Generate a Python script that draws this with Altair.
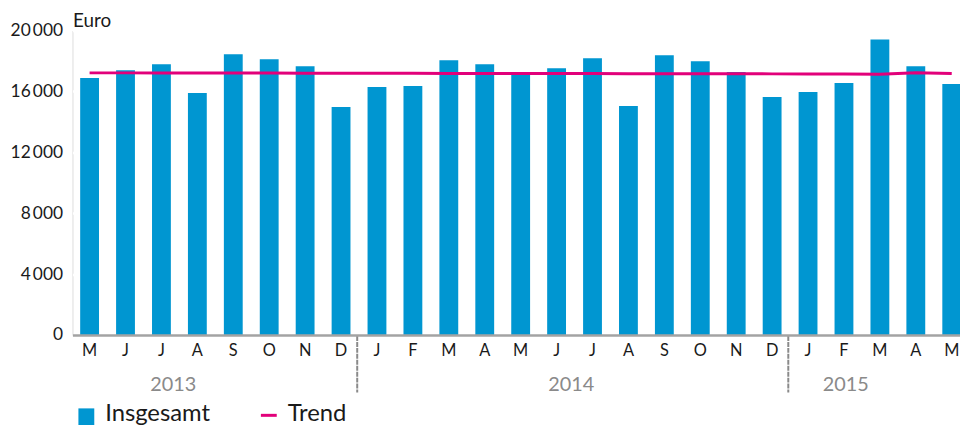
import altair as alt
import pandas as pd

months = ["M", "J", "J", "A", "S", "O", "N", "D",
          "J", "F", "M", "A", "M", "J", "J", "A", "S", "O", "N", "D",
          "J", "F", "M", "A", "M"]
insgesamt = [16880, 17400, 17790, 15900, 18440, 18120, 17660, 14980,
             16290, 16350, 18050, 17790, 17150, 17530, 18180, 15050, 18380, 17980, 17270, 15640,
             15960, 16550, 19420, 17660, 16490]
trend = [17220, 17220, 17215, 17210, 17210, 17205, 17200, 17195,
         17190, 17190, 17185, 17180, 17180, 17175, 17175, 17170, 17170, 17165, 17160, 17155,
         17150, 17140, 17135, 17235, 17180]
years = ["2013", "2014", "2015"]
year_pos = [2.33, 13.41, 21.05]
year_breaks = [7.45, 19.45]
y_ticks = [0, 4000, 8000, 12000, 16000, 20000]

BLUE = "#0096d1"
MAGENTA = "#e2007a"
BG = "#e3e8ec"
FONT = "Lato"

df = pd.DataFrame({"idx": list(range(len(months))), "month": months,
                   "value": insgesamt, "trend": trend})
ydf = pd.DataFrame({"year": years, "pos": year_pos})
bdf = pd.DataFrame({"pos": year_breaks})

xscale = alt.Scale(domain=[-0.477, 24.23], nice=False, zero=False, padding=0)
yscale = alt.Scale(domain=[0, 20000], nice=False, padding=0)

base = alt.Chart(df)

bars = base.mark_bar(width=19, color=BLUE).encode(
    x=alt.X("idx:Q", scale=xscale,
            axis=alt.Axis(labels=False, ticks=False, grid=False, title=None,
                          domain=True, domainColor="#a3a3a3", domainWidth=2.5,
                          zindex=1)),
    y=alt.Y("value:Q", scale=yscale,
            axis=alt.Axis(values=y_ticks, title="Euro", titleAngle=0,
                          titleAlign="left", titleX=0, titleY=-4,
                          titleBaseline="alphabetic", titleFont=FONT,
                          titleFontSize=19, titleFontWeight="normal",
                          titleColor="#1a1a1a",
                          labelExpr="replace(format(datum.value, ','), ',', '\u2009')",
                          labelFont=FONT, labelFontSize=17.5, labelColor="#1a1a1a",
                          labelPadding=10, ticks=False, domain=False,
                          grid=True, gridColor="white", gridWidth=2.5)),
)

line = base.mark_line(color=MAGENTA, strokeWidth=3).encode(
    x=alt.X("idx:Q", scale=xscale),
    y=alt.Y("trend:Q", scale=yscale),
)

month_text = base.mark_text(font=FONT, fontSize=16.5, color="#1a1a1a",
                            baseline="middle").encode(
    x=alt.X("idx:Q", scale=xscale),
    y=alt.value(323),
    text="month:N",
)

year_text = alt.Chart(ydf).mark_text(font=FONT, fontSize=20, color="#8a8a8a",
                                     baseline="middle").encode(
    x=alt.X("pos:Q", scale=xscale),
    y=alt.value(357),
    text="year:N",
)

breaks = alt.Chart(bdf).mark_rule(color="#8a8a8a", strokeWidth=2,
                                  strokeDash=[5, 1]).encode(
    x=alt.X("pos:Q", scale=xscale),
    y=alt.value(308),
    y2=alt.value(365),
)

leg_df = pd.DataFrame({"label": ["Insgesamt"]})
leg_df2 = pd.DataFrame({"label": ["Trend"]})

leg_sq = alt.Chart(leg_df).mark_rect(color=BLUE).encode(
    x=alt.value(6), x2=alt.value(22), y=alt.value(381), y2=alt.value(398))
leg_t1 = alt.Chart(leg_df).mark_text(font=FONT, fontSize=24, color="#1a1a1a",
                                     align="left", baseline="alphabetic").encode(
    x=alt.value(33), y=alt.value(394), text="label:N")
leg_ln = alt.Chart(leg_df2).mark_rule(color=MAGENTA, strokeWidth=3).encode(
    x=alt.value(190), x2=alt.value(206), y=alt.value(388))
leg_t2 = alt.Chart(leg_df2).mark_text(font=FONT, fontSize=24, color="#1a1a1a",
                                      align="left", baseline="alphabetic").encode(
    x=alt.value(217), y=alt.value(394), text="label:N")

chart = alt.layer(bars, line, month_text, year_text, breaks,
                  leg_sq, leg_t1, leg_ln, leg_t2).properties(
    width=895, height=307,
    autosize=alt.AutoSizeParams(type="none"),
    padding={"left": 65, "top": 21, "right": 0, "bottom": 89},
).configure_view(fill=BG, stroke=None).configure(background="white")

chart.save("out.html", embed_options={"renderer": "svg", "actions": False})
